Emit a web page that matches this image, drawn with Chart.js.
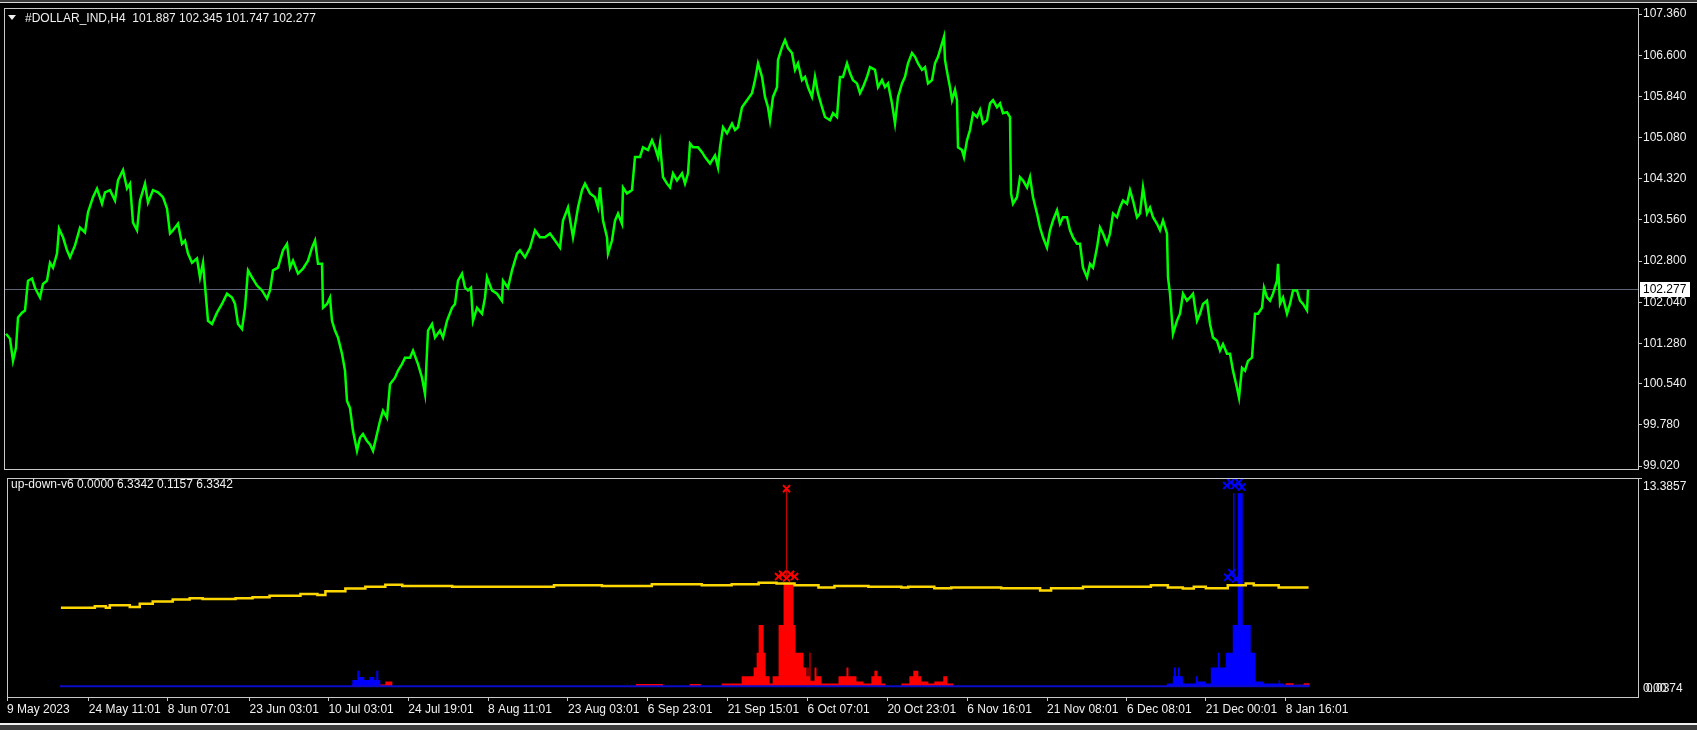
<!DOCTYPE html>
<html>
<head>
<meta charset="utf-8">
<title>#DOLLAR_IND,H4</title>
<script src="https://cdn.jsdelivr.net/npm/chart.js@4/dist/chart.umd.min.js"></script>
<style>
  html, body { margin: 0; padding: 0; background: #000; }
  body { width: 1697px; height: 730px; position: relative; overflow: hidden; font-family: "Liberation Sans", Arial, sans-serif; }
  canvas { position: absolute; left: 0; }
  #priceChart { top: 0; }
  #indChart { top: 471px; }
  .label { position: absolute; color: #f0f0f0; font-size: 12px; white-space: pre; line-height: 14px; }
  .tri { position: absolute; left: 8px; top: 15px; width: 0; height: 0;
         border-left: 4px solid transparent; border-right: 4px solid transparent; border-top: 5px solid #f0f0f0; }
  .topband { position: absolute; left: 0; top: 0; width: 1697px; height: 2px; background: #3a3a3a; border-bottom: 1px solid #d8d8d8; }
  .bottomband { position: absolute; left: 0; top: 723px; width: 1697px; height: 2px; background: #f0f0f0; }
  .bottomgrey { position: absolute; left: 0; top: 725px; width: 1697px; height: 5px; background: #3c3c3c; }
</style>
</head>
<body>
<div class="topband"></div>
<canvas id="priceChart" width="1697" height="471"></canvas>
<canvas id="indChart" width="1697" height="259"></canvas>
<div class="tri"></div>
<div class="label" style="left:25px; top:11px">#DOLLAR_IND,H4  101.887 102.345 101.747 102.277</div>
<div class="label" style="left:11px; top:477px">up-down-v6 0.0000 6.3342 0.1157 6.3342</div>
<div class="bottomband"></div>
<div class="bottomgrey"></div>

<script>
// Price pane (H4 closes, one bar = one pixel)
const priceBars = [
  2, 6, 9, 12, 14, 18, 21, 24, 28, 31, 36, 39, 43, 46, 49, 53, 55, 59, 63, 66,
  71, 76, 81, 84, 89, 93, 98, 101, 106, 111, 114, 119, 123, 126, 129, 133, 136, 141, 144, 149,
  154, 159, 163, 166, 169, 174, 178, 181, 184, 188, 193, 196, 199, 202, 204, 208, 213, 218, 223, 228,
  231, 234, 238, 241, 244, 248, 253, 258, 263, 266, 269, 274, 279, 283, 286, 289, 294, 299, 304, 308,
  311, 314, 318, 319, 323, 326, 328, 331, 334, 338, 341, 343, 346, 349, 353, 356, 359, 363, 366, 369,
  373, 376, 379, 383, 386, 391, 394, 398, 401, 406, 409, 414, 418, 421, 424, 428, 431, 436, 439, 443,
  448, 451, 454, 458, 461, 464, 467, 469, 473, 478, 481, 483, 488, 493, 498, 499, 504, 508, 513, 516,
  521, 526, 531, 536, 541, 546, 551, 556, 559, 564, 569, 574, 578, 581, 586, 591, 594, 596, 599, 603,
  604, 608, 611, 614, 618, 619, 623, 628, 631, 636, 639, 644, 648, 651, 654, 656, 659, 663, 666, 669,
  673, 678, 681, 684, 686, 689, 694, 698, 701, 706, 711, 714, 716, 719, 723, 728, 731, 734, 738, 743,
  748, 751, 754, 758, 761, 764, 766, 769, 773, 774, 778, 781, 784, 788, 791, 794, 798, 801, 804, 808,
  811, 814, 818, 821, 826, 829, 833, 836, 839, 843, 846, 849, 853, 856, 859, 863, 866, 871, 874, 878,
  881, 884, 888, 891, 894, 898, 901, 904, 908, 911, 914, 918, 921, 924, 928, 931, 934, 940, 941, 944,
  946, 948, 951, 953, 954, 958, 960, 963, 966, 969, 973, 976, 979, 983, 986, 989, 993, 996, 999, 1003,
  1006, 1007, 1009, 1013, 1016, 1019, 1023, 1026, 1029, 1033, 1036, 1039, 1043, 1046, 1049, 1053, 1056, 1059, 1063, 1066,
  1069, 1073, 1076, 1079, 1083, 1086, 1089, 1093, 1096, 1099, 1103, 1106, 1109, 1113, 1116, 1119, 1123, 1126, 1129, 1133,
  1136, 1139, 1143, 1146, 1149, 1153, 1156, 1159, 1163, 1164, 1166, 1169, 1173, 1176, 1179, 1183, 1186, 1189, 1193, 1196,
  1199, 1203, 1206, 1209, 1213, 1216, 1219, 1223, 1226, 1229, 1233, 1235, 1238, 1241, 1244, 1248, 1251, 1254, 1258, 1260,
  1263, 1266, 1269, 1273, 1274, 1276, 1279, 1283, 1286, 1289, 1293, 1296, 1299, 1303, 1304
];
const priceValues = [
  101.46, 101.37, 100.96, 101.20, 101.76, 101.85, 101.89, 102.44, 102.48, 102.31, 102.13, 102.38, 102.44, 102.77, 102.68, 102.94, 103.40, 103.24, 103.00, 102.87,
  103.09, 103.42, 103.33, 103.70, 103.98, 104.14, 103.86, 104.07, 104.11, 103.92, 104.29, 104.48, 104.14, 104.23, 103.51, 103.37, 103.92, 104.23, 103.88, 104.11,
  104.07, 103.98, 103.77, 103.31, 103.37, 103.49, 103.12, 103.18, 102.94, 102.77, 102.85, 102.50, 102.77, 102.13, 101.70, 101.64, 101.85, 102.01, 102.20, 102.13,
  102.01, 101.64, 101.55, 101.94, 102.63, 102.50, 102.35, 102.26, 102.11, 102.26, 102.63, 102.68, 103.00, 103.12, 102.68, 102.81, 102.57, 102.66, 102.81, 103.05,
  103.18, 102.75, 102.75, 101.94, 102.01, 102.13, 101.70, 101.52, 101.39, 101.09, 100.78, 100.22, 100.09, 99.67, 99.30, 99.54, 99.61, 99.48, 99.42, 99.30,
  99.61, 99.85, 100.04, 99.91, 100.53, 100.65, 100.78, 100.90, 101.02, 101.02, 101.15, 100.90, 100.65, 100.35, 101.52, 101.64, 101.39, 101.52, 101.39, 101.70,
  101.94, 102.01, 102.44, 102.57, 102.31, 102.26, 102.31, 101.70, 101.94, 101.83, 102.13, 102.50, 102.26, 102.20, 102.07, 102.44, 102.31, 102.63, 102.94, 103.00,
  102.87, 103.05, 103.37, 103.24, 103.24, 103.31, 103.18, 103.05, 103.55, 103.79, 103.24, 103.79, 104.11, 104.23, 104.05, 103.98, 103.79, 104.16, 103.55, 103.24,
  102.94, 103.18, 103.55, 103.68, 103.49, 104.16, 104.05, 104.11, 104.72, 104.72, 104.90, 104.85, 105.03, 104.90, 104.72, 104.97, 104.35, 104.23, 104.16, 104.42,
  104.29, 104.42, 104.23, 104.42, 104.97, 104.90, 104.90, 104.81, 104.72, 104.60, 104.75, 104.53, 104.90, 105.27, 105.16, 105.34, 105.22, 105.27, 105.64, 105.77,
  105.90, 106.14, 106.45, 106.20, 105.83, 105.64, 105.40, 105.83, 106.01, 106.51, 106.75, 106.88, 106.73, 106.64, 106.33, 106.45, 106.14, 106.20, 106.01, 105.83,
  106.20, 105.90, 105.64, 105.46, 105.40, 105.53, 105.46, 106.20, 106.20, 106.45, 106.27, 106.14, 106.08, 105.90, 106.01, 106.20, 106.38, 106.33, 106.01, 106.14,
  106.01, 106.08, 105.71, 105.34, 105.83, 106.08, 106.20, 106.45, 106.64, 106.57, 106.45, 106.33, 106.38, 106.08, 106.14, 106.45, 106.57, 106.94, 106.51, 106.20,
  106.01, 105.77, 105.96, 105.77, 104.90, 104.85, 104.72, 105.03, 105.22, 105.53, 105.46, 105.59, 105.34, 105.40, 105.71, 105.77, 105.64, 105.71, 105.53, 105.55,
  105.46, 104.05, 103.86, 103.98, 104.35, 104.29, 104.16, 104.35, 103.98, 103.68, 103.42, 103.24, 103.05, 103.37, 103.55, 103.74, 103.49, 103.61, 103.61, 103.37,
  103.24, 103.12, 103.12, 102.68, 102.50, 102.75, 102.68, 103.05, 103.42, 103.31, 103.12, 103.31, 103.68, 103.61, 103.79, 103.92, 103.86, 104.11, 103.92, 103.61,
  103.68, 104.16, 103.68, 103.79, 103.61, 103.49, 103.37, 103.55, 103.31, 102.50, 102.20, 101.46, 101.70, 101.83, 102.20, 102.07, 102.13, 102.20, 101.70, 101.83,
  102.01, 102.07, 101.64, 101.39, 101.33, 101.15, 101.27, 101.09, 101.09, 100.78, 100.46, 100.28, 100.83, 100.78, 100.96, 101.02, 101.83, 101.83, 101.94, 102.31,
  102.13, 102.07, 102.20, 102.44, 102.75, 102.01, 102.13, 101.83, 102.01, 102.26, 102.26, 102.07, 102.01, 101.89, 102.277
];
const lastClose = 102.277;
const priceTicks = [107.36, 106.6, 105.84, 105.08, 104.32, 103.56, 102.8, 102.04, 101.28, 100.54, 99.78, 99.02];
const priceMin = 98.965;
const priceMax = 107.471;

// Time axis (bar positions of the labels)
const timeTickBars = [0, 82, 161, 243, 322, 402, 482, 562, 642, 722, 802, 882, 962, 1042, 1122, 1201, 1281];
const timeTickLabels = ['9 May 2023', '24 May 11:01', '8 Jun 07:01', '23 Jun 03:01', '10 Jul 03:01', '24 Jul 19:01',
  '8 Aug 11:01', '23 Aug 03:01', '6 Sep 23:01', '21 Sep 15:01', '6 Oct 07:01', '20 Oct 23:01', '6 Nov 16:01',
  '21 Nov 08:01', '6 Dec 08:01', '21 Dec 00:01', '8 Jan 16:01'];
const totalBars = 1634;

// up-down-v6 indicator (each value holds until the next listed bar)
const yellowBars = [54, 88, 99, 103, 123, 133, 146, 166, 183, 196, 229, 246, 263, 294, 311, 319, 339, 359, 379, 396,
  446, 548, 596, 646, 696, 726, 753, 771, 789, 813, 829, 863, 896, 903, 929, 946, 996, 1035, 1046, 1078,
  1146, 1163, 1178, 1189, 1201, 1223, 1241, 1249, 1274, 1304];
const yellowValues = [5.05, 5.15, 5.05, 5.20, 5.10, 5.30, 5.45, 5.57, 5.66, 5.61, 5.66, 5.72, 5.82, 5.93, 5.87, 6.10, 6.28, 6.39, 6.52, 6.45,
  6.40, 6.49, 6.45, 6.55, 6.49, 6.55, 6.66, 6.60, 6.49, 6.35, 6.45, 6.39, 6.35, 6.39, 6.30, 6.35, 6.30, 6.16, 6.30, 6.39,
  6.49, 6.35, 6.28, 6.39, 6.30, 6.49, 6.60, 6.49, 6.35, 6.35];

const redBars = [53, 346, 379, 386, 630, 657, 684, 695, 716, 736, 748, 751, 753, 758, 760, 764, 767, 773, 778, 788,
  790, 798, 801, 802, 803, 804, 805, 809, 811, 816, 833, 841, 843, 851, 858, 866, 869, 872, 876, 880,
  896, 904, 908, 913, 916, 923, 929, 938, 942, 948, 1162, 1281, 1289, 1299, 1305];
const redValues = [0, 0.12, 0.3, 0, 0.15, 0, 0.15, 0, 0.17, 0.65, 1.21, 2.16, 3.94, 2.16, 0.65, 0.17, 0.65, 3.94, 6.66, 3.94,
  2.16, 1.21, 0.65, 1.21, 0.65, 2.16, 0.35, 1.21, 0.65, 0.17, 0.65, 1.21, 0.65, 0.3, 0.17, 0.65, 1.0, 0.65, 0.17, 0,
  0.17, 0.65, 1.0, 0.65, 0.3, 0.17, 0.3, 0.65, 0.17, 0, 0.1, 0.2, 0.1, 0.2, 0];

const blueBars = [53, 346, 351, 353, 358, 363, 368, 370, 372, 374, 1162, 1168, 1169, 1171, 1173, 1175, 1178, 1191, 1193, 1201,
  1206, 1213, 1215, 1221, 1228, 1233, 1238, 1246, 1251, 1259, 1274, 1275, 1279, 1305];
const blueValues = [0, 0.4, 1.0, 0.6, 0.4, 0.6, 0.4, 1.0, 0.4, 0, 0.17, 0.65, 1.21, 0.65, 1.21, 0.65, 0.17, 0.65, 0.3, 0.17,
  1.21, 2.16, 1.21, 2.16, 3.94, 12.4, 3.94, 2.16, 0.3, 0.17, 0.4, 0.17, 0.1, 0];

const baseBars = [53, 1305];
const baseValues = [0, 0];

// signal crosses and their connecting lines
const redMarkBars = [781, 773, 777, 781, 785, 789];
const redMarkValues = [12.7, 7.05, 7.2, 6.95, 7.2, 7.05];
const redLineBars = [781, 781];
const redLineValues = [12.7, 7.1];
const blueMarkBars = [1222, 1226, 1230, 1234, 1237, 1223, 1227, 1231];
const blueMarkValues = [12.9, 13.1, 12.9, 13.1, 12.8, 7.0, 7.3, 6.9];
const blueLineBars = [1229, 1229];
const blueLineValues = [12.4, 7.2];

const indMax = 13.3857;
const indMin = -0.69;

const axisColor = '#c8c8c8';
const textColor = '#f0f0f0';
const fontFamily = '"Liberation Sans", Arial, sans-serif';

const toPoints = (xs, ys) => xs.map((x, i) => ({ x: x, y: ys[i] }));

// Frame round the plot area, like the terminal draws it
const framePlugin = {
  id: 'frame',
  afterDraw(chart) {
    const { ctx, chartArea: a } = chart;
    ctx.save();
    ctx.strokeStyle = axisColor;
    ctx.lineWidth = 1;
    ctx.strokeRect(a.left + 0.5, a.top + 0.5, a.right - a.left, a.bottom - a.top);
    ctx.restore();
  }
};

// Bid line and its price box
const lastPricePlugin = {
  id: 'lastPrice',
  beforeDatasetsDraw(chart) {
    const { ctx, chartArea: a } = chart;
    const y = Math.round(chart.scales.y.getPixelForValue(lastClose)) + 0.5;
    ctx.save();
    ctx.strokeStyle = '#5c6676';
    ctx.lineWidth = 1;
    ctx.beginPath();
    ctx.moveTo(a.left, y);
    ctx.lineTo(a.right, y);
    ctx.stroke();
    ctx.restore();
  },
  afterDraw(chart) {
    const { ctx, chartArea: a } = chart;
    const y = Math.round(chart.scales.y.getPixelForValue(lastClose));
    ctx.save();
    ctx.fillStyle = '#ffffff';
    ctx.fillRect(a.right + 2, y - 7, 50, 15);
    ctx.fillStyle = '#000000';
    ctx.font = '12px ' + fontFamily;
    ctx.textBaseline = 'middle';
    ctx.fillText(lastClose.toFixed(3), a.right + 5, y + 1);
    ctx.restore();
  }
};

// Scale labels of the indicator window
const indLabelsPlugin = {
  id: 'indLabels',
  afterDraw(chart) {
    const { ctx, chartArea: a } = chart;
    const ys = chart.scales.y;
    const x0 = a.right + 5;
    ctx.save();
    ctx.strokeStyle = axisColor;
    ctx.beginPath();
    ctx.moveTo(a.right, a.top + 0.5);
    ctx.lineTo(a.right + 4, a.top + 0.5);
    ctx.stroke();
    ctx.fillStyle = textColor;
    ctx.font = '12px ' + fontFamily;
    ctx.textBaseline = 'top';
    ctx.fillText(indMax.toFixed(4), x0, ys.getPixelForValue(indMax) + 3);
    ctx.textBaseline = 'middle';
    const yz = ys.getPixelForValue(0) + 2;
    ctx.fillText('0.00', x0, yz);
    ctx.fillText('0.0374', x0 + 3, yz);
    ctx.restore();
  }
};

function initCharts() {
  // Price pane
  new Chart(document.getElementById('priceChart'), {
    type: 'line',
    data: {
      datasets: [{
        data: toPoints(priceBars, priceValues),
        borderColor: '#00ff00',
        borderWidth: 2.5,
        pointRadius: 0,
        tension: 0
      }]
    },
    options: {
      responsive: false,
      animation: false,
      devicePixelRatio: 1,
      layout: { padding: { left: 4, top: 8, right: 0, bottom: 2 } },
      plugins: { legend: { display: false }, tooltip: { enabled: false } },
      scales: {
        x: { type: 'linear', min: 0, max: totalBars, display: false },
        y: {
          position: 'right',
          min: priceMin,
          max: priceMax,
          afterBuildTicks: (scale) => { scale.ticks = priceTicks.map(v => ({ value: v })); },
          afterFit: (scale) => { scale.width = 59; scale.paddingTop = 0; scale.paddingBottom = 0; },
          ticks: {
            color: textColor,
            font: { family: fontFamily, size: 12 },
            padding: 1,
            autoSkip: false,
            callback: (v) => Number(v).toFixed(3)
          },
          grid: { drawOnChartArea: false, tickLength: 4, color: axisColor },
          border: { display: false }
        }
      }
    },
    plugins: [lastPricePlugin, framePlugin]
  });

  // Indicator pane
  new Chart(document.getElementById('indChart'), {
    type: 'line',
    data: {
      datasets: [
        {
          data: toPoints(redMarkBars, redMarkValues),
          showLine: false,
          pointStyle: 'crossRot',
          pointRadius: 5,
          pointBorderWidth: 2,
          pointBorderColor: '#ff0000'
        },
        {
          data: toPoints(blueMarkBars, blueMarkValues),
          showLine: false,
          pointStyle: 'crossRot',
          pointRadius: 5,
          pointBorderWidth: 2,
          pointBorderColor: '#0000ff'
        },
        {
          data: toPoints(redLineBars, redLineValues),
          borderColor: '#c00000',
          borderWidth: 1,
          pointRadius: 0
        },
        {
          data: toPoints(blueLineBars, blueLineValues),
          borderColor: '#0000ff',
          borderWidth: 1,
          pointRadius: 0
        },
        {
          data: toPoints(yellowBars, yellowValues),
          borderColor: '#ffd700',
          borderWidth: 2.5,
          stepped: 'before',
          pointRadius: 0
        },
        {
          data: toPoints(baseBars, baseValues),
          borderColor: '#0c0cc8',
          borderWidth: 2,
          pointRadius: 0
        },
        {
          data: toPoints(blueBars, blueValues),
          borderColor: 'transparent',
          borderWidth: 0,
          backgroundColor: '#0000ff',
          fill: 'origin',
          stepped: 'before',
          pointRadius: 0
        },
        {
          data: toPoints(redBars, redValues),
          borderColor: 'transparent',
          borderWidth: 0,
          backgroundColor: '#ff0000',
          fill: 'origin',
          stepped: 'before',
          pointRadius: 0
        }
      ]
    },
    options: {
      responsive: false,
      animation: false,
      devicePixelRatio: 1,
      layout: { padding: { left: 4, top: 1, right: 0, bottom: 0 } },
      plugins: { legend: { display: false }, tooltip: { enabled: false } },
      scales: {
        x: {
          type: 'linear',
          min: 0,
          max: totalBars,
          afterBuildTicks: (scale) => { scale.ticks = timeTickBars.map(v => ({ value: v })); },
          afterFit: (scale) => { scale.height = 33; scale.paddingLeft = 0; scale.paddingRight = 0; },
          ticks: {
            color: textColor,
            font: { family: fontFamily, size: 12 },
            align: 'start',
            padding: 1,
            maxRotation: 0,
            autoSkip: false,
            callback: (v, i) => timeTickLabels[i]
          },
          grid: { drawOnChartArea: false, tickLength: 4, color: axisColor },
          border: { display: false }
        },
        y: {
          position: 'right',
          min: indMin,
          max: indMax,
          afterFit: (scale) => { scale.width = 59; scale.paddingTop = 0; scale.paddingBottom = 0; },
          ticks: { display: false },
          grid: { display: false },
          border: { display: false }
        }
      }
    },
    plugins: [framePlugin, indLabelsPlugin]
  });
}

document.addEventListener('DOMContentLoaded', initCharts);
</script>
</body>
</html>
